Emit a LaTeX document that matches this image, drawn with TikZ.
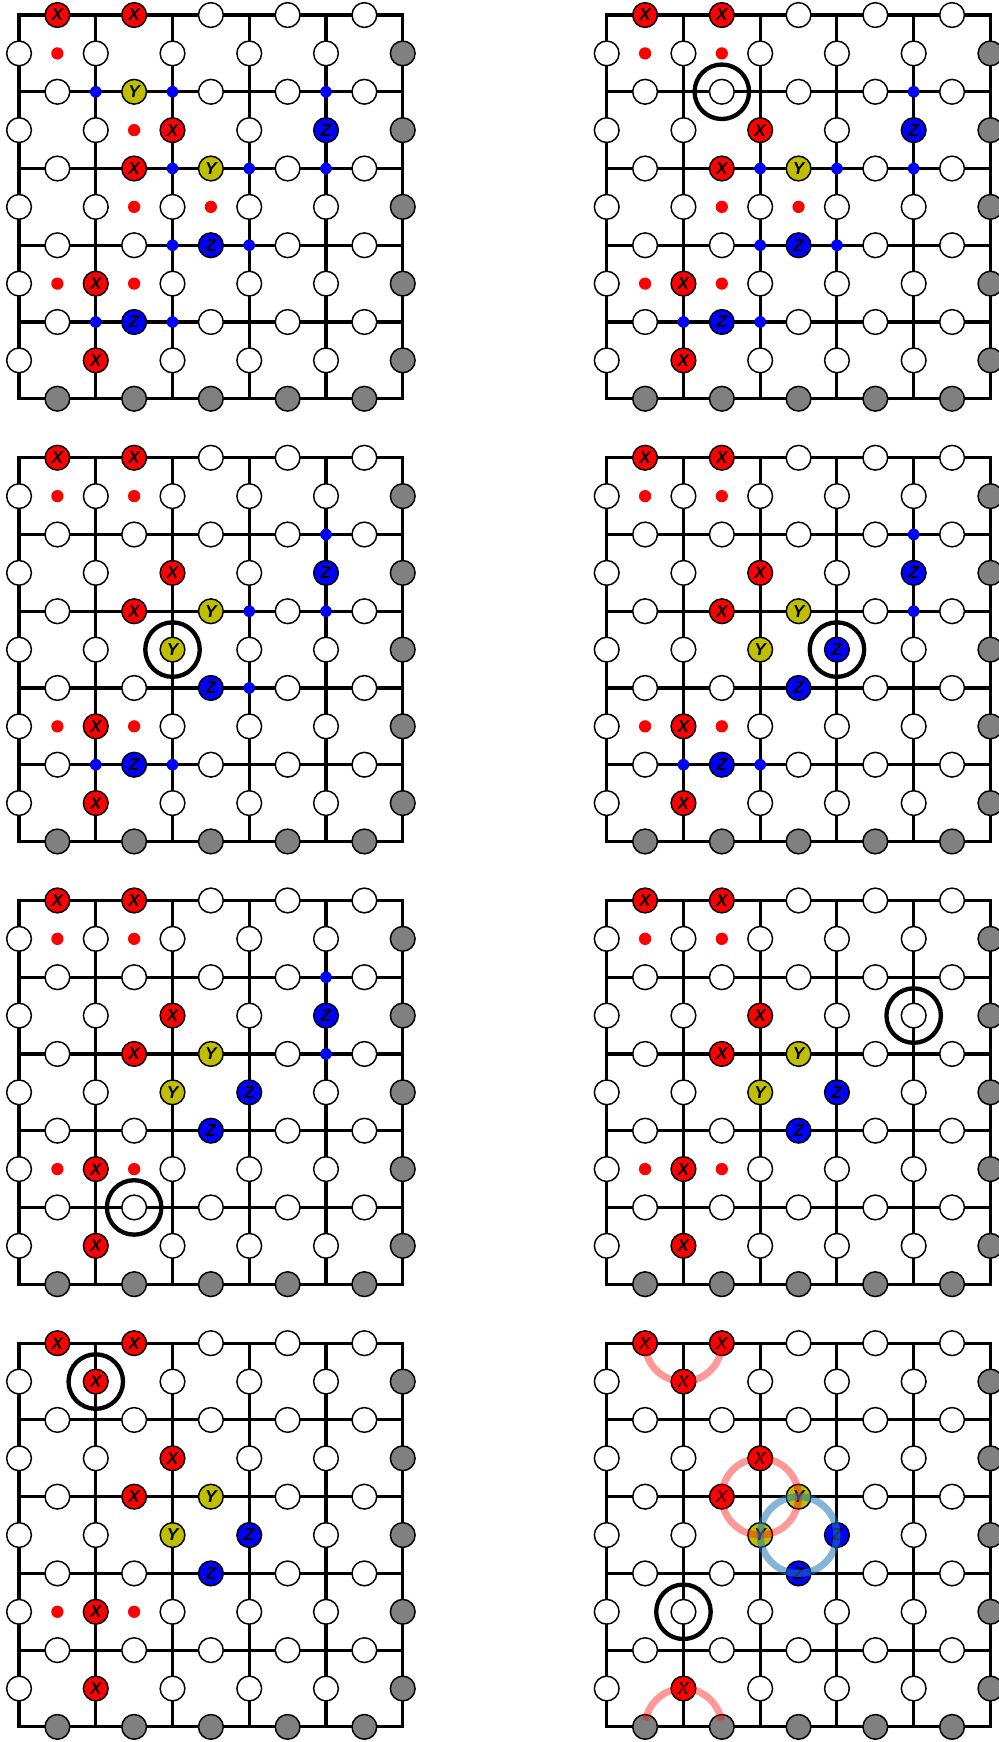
\documentclass[tikz,border=0pt]{standalone}
\usepackage{fontspec}
\setsansfont{Liberation Sans}
\definecolor{qyellow}{rgb}{0.75,0.75,0}
\definecolor{cblue}{RGB}{31,119,180}

\newcommand\seterr[2]{\expandafter\def\csname q@#1\endcsname{#2}}
\newcommand\lattice{%
  \draw[gridline] (0,0) rectangle (5,-5);
  \foreach \k in {1,...,4} {
    \draw[gridline] (0,-\k) -- (5,-\k);
    \draw[gridline] (\k,0) -- (\k,-5);
  }
  \foreach \i in {0,...,4} {
    \foreach \j in {0,...,4} {
      \edef\qst{\ifcsname q@h\i\j\endcsname\csname q@h\i\j\endcsname\fi}
      \node[style/.expanded={qubit\qst}] (\pn h\i\j) at (\i+0.5,-\j) {\qst};
      \edef\qst{\ifcsname q@v\i\j\endcsname\csname q@v\i\j\endcsname\fi}
      \node[style/.expanded={qubit\qst}] (\pn v\i\j) at (\i,-\j-0.5) {\qst};
    }
    \node[boundary] (\pn h\i5) at (\i+0.5,-5) {};
    \node[boundary] (\pn v5\i) at (5,-\i-0.5) {};
  }
}

\begin{document}
\begin{tikzpicture}[
gridline/.style={line width=1.15pt},
qubit/.style={circle, draw, line width=0.55pt, fill=white, minimum size=3.22mm, inner sep=0pt, font=\sffamily\bfseries\itshape\fontsize{6.4}{7}\selectfont},
qubitX/.style={qubit, fill=red},
qubitY/.style={qubit, fill=qyellow},
qubitZ/.style={qubit, fill=blue},
boundary/.style={qubit, fill=gray},
xsyn/.style={circle, fill=red, minimum size=1.6mm, inner sep=0pt},
zsyn/.style={circle, fill=blue, minimum size=1.52mm, inner sep=0pt},
flag/.style={circle, draw, line width=1.6pt, minimum size=7.1mm, inner sep=0pt},
xring/.style={draw=red, line width=2.6pt, draw opacity=0.4},
zring/.style={draw=cblue, line width=2.6pt, draw opacity=0.55}]
\useasboundingbox (-0.248,0.196) rectangle (12.770,-22.504);

\begin{scope}
\def\pn{a}
\seterr{h00}{X}\seterr{h10}{X}\seterr{h11}{Y}\seterr{v21}{X}\seterr{v41}{Z}\seterr{h12}{X}
\seterr{h22}{Y}\seterr{h23}{Z}\seterr{v13}{X}\seterr{h14}{Z}\seterr{v14}{X}
\lattice
\foreach \i/\j in {0/0,1/1,1/2,2/2,0/3,1/3} \node[xsyn] (af\i\j) at (\i+0.5,-\j-0.5) {};
\foreach \i/\j in {1/1,2/1,4/1,2/2,3/2,4/2,2/3,3/3,1/4,2/4} \node[zsyn] (as\i\j) at (\i,-\j) {};
\end{scope}

\begin{scope}[shift={(7.658,0)}]
\def\pn{b}
\seterr{h00}{X}\seterr{h10}{X}\seterr{v21}{X}\seterr{v41}{Z}\seterr{h12}{X}
\seterr{h22}{Y}\seterr{h23}{Z}\seterr{v13}{X}\seterr{h14}{Z}\seterr{v14}{X}
\lattice
\foreach \i/\j in {0/0,1/0,1/2,2/2,0/3,1/3} \node[xsyn] (bf\i\j) at (\i+0.5,-\j-0.5) {};
\foreach \i/\j in {4/1,2/2,3/2,4/2,2/3,3/3,1/4,2/4} \node[zsyn] (bs\i\j) at (\i,-\j) {};
\node[flag] (bflag) at (bh11) {};
\end{scope}

\begin{scope}[shift={(0,-5.769)}]
\def\pn{c}
\seterr{h00}{X}\seterr{h10}{X}\seterr{v21}{X}\seterr{v41}{Z}\seterr{h12}{X}\seterr{h22}{Y}
\seterr{v22}{Y}\seterr{h23}{Z}\seterr{v13}{X}\seterr{h14}{Z}\seterr{v14}{X}
\lattice
\foreach \i/\j in {0/0,1/0,0/3,1/3} \node[xsyn] (cf\i\j) at (\i+0.5,-\j-0.5) {};
\foreach \i/\j in {4/1,3/2,4/2,3/3,1/4,2/4} \node[zsyn] (cs\i\j) at (\i,-\j) {};
\node[flag] (cflag) at (cv22) {};
\end{scope}

\begin{scope}[shift={(7.658,-5.769)}]
\def\pn{d}
\seterr{h00}{X}\seterr{h10}{X}\seterr{v21}{X}\seterr{v41}{Z}\seterr{h12}{X}\seterr{h22}{Y}
\seterr{v22}{Y}\seterr{v32}{Z}\seterr{h23}{Z}\seterr{v13}{X}\seterr{h14}{Z}\seterr{v14}{X}
\lattice
\foreach \i/\j in {0/0,1/0,0/3,1/3} \node[xsyn] (df\i\j) at (\i+0.5,-\j-0.5) {};
\foreach \i/\j in {4/1,4/2,1/4,2/4} \node[zsyn] (ds\i\j) at (\i,-\j) {};
\node[flag] (dflag) at (dv32) {};
\end{scope}

\begin{scope}[shift={(0,-11.538)}]
\def\pn{e}
\seterr{h00}{X}\seterr{h10}{X}\seterr{v21}{X}\seterr{v41}{Z}\seterr{h12}{X}\seterr{h22}{Y}
\seterr{v22}{Y}\seterr{v32}{Z}\seterr{h23}{Z}\seterr{v13}{X}\seterr{v14}{X}
\lattice
\foreach \i/\j in {0/0,1/0,0/3,1/3} \node[xsyn] (ef\i\j) at (\i+0.5,-\j-0.5) {};
\foreach \i/\j in {4/1,4/2} \node[zsyn] (es\i\j) at (\i,-\j) {};
\node[flag] (eflag) at (eh14) {};
\end{scope}

\begin{scope}[shift={(7.658,-11.538)}]
\def\pn{f}
\seterr{h00}{X}\seterr{h10}{X}\seterr{v21}{X}\seterr{h12}{X}\seterr{h22}{Y}
\seterr{v22}{Y}\seterr{v32}{Z}\seterr{h23}{Z}\seterr{v13}{X}\seterr{v14}{X}
\lattice
\foreach \i/\j in {0/0,1/0,0/3,1/3} \node[xsyn] (ff\i\j) at (\i+0.5,-\j-0.5) {};
\node[flag] (fflag) at (fv41) {};
\end{scope}

\begin{scope}[shift={(0,-17.307)}]
\def\pn{g}
\seterr{h00}{X}\seterr{h10}{X}\seterr{v10}{X}\seterr{v21}{X}\seterr{h12}{X}\seterr{h22}{Y}
\seterr{v22}{Y}\seterr{v32}{Z}\seterr{h23}{Z}\seterr{v13}{X}\seterr{v14}{X}
\lattice
\foreach \i/\j in {0/3,1/3} \node[xsyn] (gf\i\j) at (\i+0.5,-\j-0.5) {};
\node[flag] (gflag) at (gv10) {};
\end{scope}

\begin{scope}[shift={(7.658,-17.307)}]
\def\pn{h}
\seterr{h00}{X}\seterr{h10}{X}\seterr{v10}{X}\seterr{v21}{X}\seterr{h12}{X}\seterr{h22}{Y}
\seterr{v22}{Y}\seterr{v32}{Z}\seterr{h23}{Z}\seterr{v14}{X}
\lattice
\node[flag] (hflag) at (hv13) {};
\draw[xring] (hh00.center) arc[start angle=180, end angle=360, radius=0.5];
\draw[xring] (2,-2) circle (0.5);
\draw[zring] (2.5,-2.5) circle (0.5);
\draw[xring] ([shift={(170:0.5)}]1,-5) arc[start angle=170, end angle=10, radius=0.5];
\end{scope}
\end{tikzpicture}
\end{document}
